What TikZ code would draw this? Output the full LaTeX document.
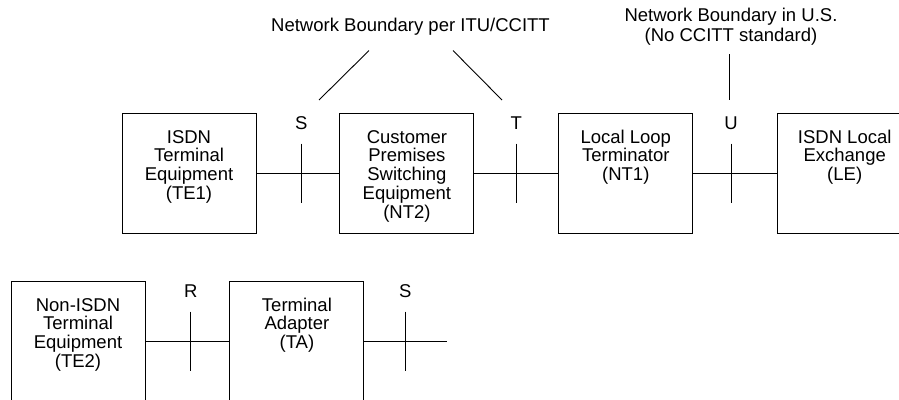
\documentclass[tikz,border=0pt]{standalone}
\usepackage{fontspec}
\setmainfont{Liberation Sans}
\usetikzlibrary{positioning, calc}

% lines stacked from the top line down
\newcommand{\devlines}[1]{\begin{tabular}[t]{@{}c@{}}#1\end{tabular}}

\begin{document}
\begin{tikzpicture}[
    x=1pt, y=-1pt,
    node distance=84pt,
    unit/.style={draw, line width=0.9pt, minimum width=134pt,
                 inner xsep=0pt, inner ysep=0pt, text height=30pt, text depth=90pt,
                 font=\fontsize{18.5}{18.5}\selectfont},
    ifname/.style={anchor=base, font=\fontsize{18.5}{18.5}\selectfont, inner sep=0pt},
    note/.style={align=center, anchor=base, inner sep=0pt,
                 font=\fontsize{18.5}{19.5}\selectfont},
    wire/.style={line width=0.9pt}
]
\useasboundingbox (0,0) rectangle (899,399);

% ISDN devices
\node[unit] (te1) at (189,173) {\devlines{ISDN\\Terminal\\Equipment\\(TE1)}};
\node[unit, right=83pt of te1] (nt2) {\devlines{Customer\\Premises\\Switching\\Equipment\\(NT2)}};
\node[unit, right=of nt2] (nt1) {\devlines{Local Loop\\Terminator\\(NT1)}};
\node[unit, right=of nt1] (le) {\devlines{ISDN Local\\Exchange\\(LE)}};

% Non-ISDN devices
\node[unit] (te2) at (78,341) {\devlines{Non-ISDN\\Terminal\\Equipment\\(TE2)}};
\node[unit, right=of te2] (ta) {\devlines{Terminal\\Adapter\\(TA)}};
\coordinate (taOut) at (447,341);

% Reference points
\coordinate (ifS) at ($(te1.east)!0.54!(nt2.west)$);
\coordinate (ifT) at ($(nt2.east)!0.5!(nt1.west)$);
\coordinate (ifU) at ($(nt1.east)!0.45!(le.west)$);
\coordinate (ifR) at ($(te2.east)!0.54!(ta.west)$);
\coordinate (ifS2) at ([xshift=41pt]ta.east);

% Links
\draw[wire] (te1) -- (nt2);
\draw[wire] (nt2) -- (nt1);
\draw[wire] (nt1) -- (le);
\draw[wire] (te2) -- (ta);
\draw[wire] (ta) -- (taOut);

% Ticks and letters
\foreach \p/\t in {ifS/S, ifT/T, ifU/U, ifR/R, ifS2/S} {
  \draw[wire] ([yshift=29.5pt]\p) -- ([yshift=-29.5pt]\p);
  \node[ifname] (lab\p) at ([yshift=43.5pt]\p) {\t};
}

% Boundary notes
\node[note] (itu) at (410.5,31.5) {Network Boundary per ITU/CCITT};
\node[note] (usb) at (731,41) {Network Boundary in U.S.\\(No CCITT standard)};
\coordinate (bS) at (319,100);
\coordinate (bT) at (502,100);
\coordinate (bU) at (729,100);
\draw[wire] ([xshift=-41.5pt, yshift=-15pt]itu.south) -- (bS);
\draw[wire] ([xshift=42.5pt, yshift=-15pt]itu.south) -- (bT);
\draw[wire] (usb.south -| bU) ++(0,9) -- (bU);

\end{tikzpicture}
\end{document}
